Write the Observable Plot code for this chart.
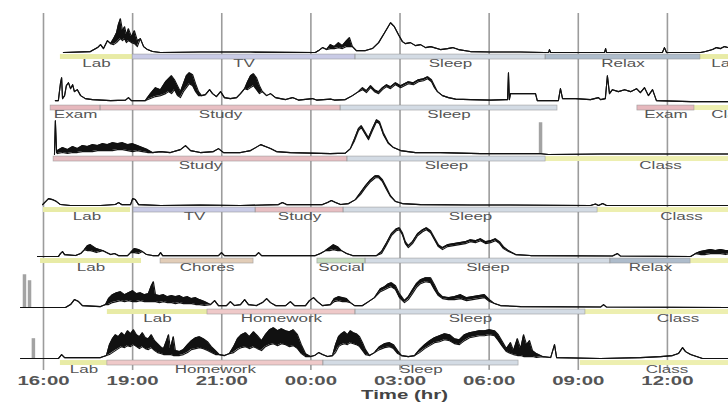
<!DOCTYPE html>
<html><head><meta charset="utf-8">
<script src="https://cdn.jsdelivr.net/npm/d3@7"></script>
<script src="https://cdn.jsdelivr.net/npm/@observablehq/plot@0.6"></script>
<style>body{margin:0;overflow:hidden;background:#fff}</style>
</head><body><script>
// Hours since the first tick (16:00), ticks every 3 hours
const tickHours = [0, 3, 6, 9, 12, 15, 18, 21];
const tickLabels = ["16:00", "19:00", "21:00", "00:00", "03:00", "06:00", "09:00", "12:00"];

const activityNames = ["Lab", "Class", "TV", "Sleep", "Relax", "Exam", "Study", "Homework", "Chores", "Social"];
const activityColors = ["#e8eba6", "#edefb0", "#c9cbe6", "#d3dbe4", "#aebccb", "#e6b8bd", "#e8bfc3", "#efc9c9", "#e2cdb8", "#c5dcc0"];

// Activity bands per day: [start hour, end hour, activity]
const seg1 = [[0.57, 3.0, "Lab"], [3.0, 10.5, "TV"], [10.5, 16.9, "Sleep"], [16.9, 22.11, "Relax"], [22.11, 23.8, "Lab"]];
const seg2 = [[0.24, 1.92, "Exam"], [1.92, 10.0, "Study"], [10.0, 17.3, "Sleep"], [19.99, 21.91, "Exam"], [21.91, 24.47, "Class"]];
const seg3 = [[0.34, 10.23, "Study"], [10.23, 16.9, "Sleep"], [16.9, 24.64, "Class"]];
const seg4 = [[0.0, 2.93, "Lab"], [3.03, 7.14, "TV"], [7.14, 10.1, "Study"], [10.1, 18.65, "Sleep"], [18.65, 24.3, "Class"]];
const seg5 = [[-0.1, 3.3, "Lab"], [3.94, 7.07, "Chores"], [9.22, 10.84, "Social"], [10.84, 19.08, "Sleep"], [19.08, 21.78, "Relax"], [21.78, 27.0, "Class"]];
const seg6 = [[2.15, 5.52, "Lab"], [5.52, 10.5, "Homework"], [10.5, 18.24, "Sleep"], [18.24, 24.47, "Class"]];
const seg7 = [[0.57, 2.15, "Lab"], [2.15, 9.42, "Homework"], [9.42, 15.99, "Sleep"], [18.07, 23.9, "Class"]];

// EDA traces per day: [hour, level] or [hour, low, high] (dense activity)
const row1 = [[0.67,0],[1.58,1],[1.82,5],[1.92,8],[2.02,4],[2.15,12],[2.26,9],[2.36,8,14],[2.46,10,20],[2.52,12,28],[2.59,14,34],[2.66,12,22],[2.73,14,26],[2.79,10,18],[2.86,12,24],[2.96,10,16],[3.06,9,22],[3.16,6,12],[3.26,14],[3.37,6],[3.5,3],[3.67,1],[3.94,0],[5.28,0.5],[6.97,0.5],[9.15,0],[9.26,2],[9.39,5],[9.53,3],[9.66,4,8],[9.79,4,6],[9.93,5,10],[10.06,4,7],[10.2,6,12],[10.3,6,15],[10.4,6],[10.53,2],[10.84,2],[11.07,4],[11.28,10],[11.48,20],[11.68,30],[11.81,26],[11.95,18],[12.08,11],[12.18,9],[12.35,10],[12.52,7],[12.69,8],[12.86,5],[13.03,6],[13.36,3],[13.6,4],[13.77,5],[13.97,3],[14.37,1],[15.05,0.5],[16.06,0.5],[16.86,0],[17.0,0],[17.03,3],[17.07,0],[18.88,0],[18.92,4],[18.95,0],[20.83,0],[20.9,5],[20.97,0],[22.11,0],[22.28,1],[22.52,3],[22.65,5],[22.79,4],[22.92,6],[23.06,5]];
const row2 = [[0.4,3],[0.5,3],[0.57,20],[0.61,26],[0.64,5],[0.71,8],[0.77,18],[0.84,21],[0.91,15],[0.98,19],[1.04,12],[1.14,14],[1.25,8],[1.41,5],[1.65,4],[2.26,3],[2.76,3.5],[2.86,6],[2.96,3],[3.43,3],[3.6,5,10],[3.77,7,16],[3.94,8,14],[4.11,10,22],[4.21,12,25],[4.31,10,28],[4.41,14,24],[4.51,8,18],[4.61,6,12],[4.71,12,20],[4.81,16,28],[4.91,20,31],[5.02,18,29],[5.12,12,20],[5.22,8,12],[5.32,8],[5.45,9],[5.59,14],[5.69,10],[5.82,7],[5.96,12],[6.09,6],[6.29,5],[6.5,6],[6.63,10],[6.77,15],[6.87,14,22],[6.97,16,28],[7.07,18,30],[7.17,14,26],[7.27,10,18],[7.37,12],[7.51,8],[7.64,10],[7.81,6],[8.15,4],[8.38,6],[8.58,3.5],[9.05,5],[9.19,3.5],[9.66,4.5],[9.79,3.5],[10.16,4],[10.4,8],[10.6,12],[10.74,14,16],[10.87,11,13],[11.01,16,18],[11.14,12,14],[11.28,10,12],[11.41,14,16],[11.55,17,19],[11.68,15,17],[11.85,19,21],[12.02,16,18],[12.15,18,20],[12.28,20,22],[12.45,19,21],[12.62,22,24],[12.79,23,25],[12.93,25,27],[13.06,22,24],[13.16,16,18],[13.26,12],[13.43,8],[13.63,6],[13.87,4.5],[14.37,4],[15.05,3.5],[15.55,4],[15.62,4],[15.65,31],[15.68,4],[15.72,10],[16.56,10],[16.62,3],[17.33,3],[17.4,15],[17.47,5],[17.91,5],[18.41,4],[18.68,6],[18.75,4],[18.91,5],[18.98,28],[19.05,10],[19.15,14],[19.35,12],[19.56,14],[19.76,12],[19.96,15],[20.09,11],[20.23,16],[20.36,8],[20.5,14],[20.63,3],[21.78,2],[23.06,2]];
const row3 = [[0.37,0],[0.4,34],[0.44,2],[0.47,1,4],[0.64,2,7],[0.81,1,5],[0.98,2,8],[1.14,2,6],[1.31,3,9],[1.48,3,8],[1.65,3,10],[1.82,4,9],[1.99,4,11],[2.15,4,10],[2.32,4,12],[2.49,5,11],[2.66,5,12],[2.83,4,10],[3.0,3,11],[3.16,4,9],[3.33,3,7],[3.5,2,5],[3.67,2],[3.94,3],[4.27,2],[4.61,5],[4.78,9],[4.95,4],[5.28,2],[5.72,3],[5.89,6],[6.06,2],[6.63,2],[6.97,4],[7.14,7],[7.31,10],[7.47,8],[7.64,6],[7.84,3],[8.31,2],[9.0,1.5],[9.66,1],[10.16,1.5],[10.33,6],[10.47,14,16],[10.6,24,26],[10.7,27,29],[10.8,22,24],[10.94,15,17],[11.07,24,26],[11.21,33,35],[11.31,31,33],[11.44,20,22],[11.61,11,12],[11.78,7],[12.02,4],[12.52,2],[13.36,2],[14.71,1],[16.06,1],[16.66,1],[17.0,0],[18.75,0.5],[20.43,0.5],[23.06,0.5]];
const row4 = [[-0.03,1],[0.07,4],[0.17,7],[0.3,6],[0.44,4],[0.57,1],[0.91,0],[1.92,0],[2.42,1],[2.52,3],[2.63,1],[2.93,1],[3.0,7],[3.09,6],[3.2,1],[3.94,0],[5.28,0.5],[6.63,0],[7.91,1],[8.04,3],[8.18,1],[9.39,1],[9.56,3],[9.69,5],[9.83,3],[10.0,1],[10.27,2],[10.5,6],[10.67,11,13],[10.84,18,20],[11.01,24,26],[11.17,28,30],[11.28,28,30],[11.41,24,26],[11.55,16,18],[11.68,9,10],[11.85,4],[12.08,2],[12.69,1],[14.37,0.5],[15.72,0.5],[18.41,0],[18.58,1.5],[18.68,0],[18.82,2],[18.95,0],[23.06,0]];
const row5 = [[-0.2,0],[0.5,0],[0.57,3],[0.64,5],[0.71,2],[1.08,1],[1.25,3],[1.38,7],[1.48,6,11],[1.58,6,12],[1.68,5,10],[1.78,4,8],[1.88,5,7],[1.99,6],[2.12,4],[2.26,2],[2.39,3],[2.52,1],[2.83,1],[2.93,4],[3.06,4,8],[3.2,3,7],[3.33,5],[3.47,2],[3.67,1],[3.87,1],[3.94,4],[4.01,1],[5.89,1],[5.99,4],[6.09,1],[7.14,1],[7.24,4],[7.34,1],[9.15,1],[9.32,3],[9.49,6],[9.63,6,9],[9.76,7,12],[9.9,6,10],[10.03,6],[10.2,3],[10.4,1],[11.21,1],[11.38,3,5],[11.55,12,14],[11.71,21,23],[11.88,26,28],[11.98,27,29],[12.08,22,24],[12.18,13,15],[12.28,9,11],[12.42,13,15],[12.59,21,23],[12.76,25,27],[12.89,27,29],[13.03,24,26],[13.16,17,19],[13.29,10,12],[13.43,7,9],[13.6,10,12],[13.8,11,13],[14.0,12,14],[14.2,13,15],[14.37,15,17],[14.54,14,16],[14.71,16,18],[14.88,13,15],[15.05,14,16],[15.21,16,18],[15.35,13,15],[15.48,8,10],[15.65,5,6],[15.89,2],[16.39,1],[19.15,0.5],[19.32,3],[19.42,0.5],[21.78,0],[21.95,3],[22.11,2,5],[22.28,2,6],[22.45,3,7],[22.62,3,6],[22.79,3,7],[22.96,2,6],[23.06,3,6]];
const row6 = [[-0.77,0],[0.74,0],[0.91,3],[1.04,8],[1.18,6],[1.31,2],[1.92,1],[2.09,3],[2.19,3,9],[2.32,5,13],[2.46,6,15],[2.59,7,16],[2.73,6,13],[2.86,7,15],[3.0,6,17],[3.13,6,14],[3.26,7,15],[3.4,6,13],[3.53,6,14],[3.63,6,22],[3.7,6,26],[3.77,6,13],[3.9,5,12],[4.04,6,13],[4.17,5,11],[4.31,5,12],[4.44,4,11],[4.58,5,12],[4.71,4,10],[4.85,4,11],[4.98,4,9],[5.12,3,10],[5.25,3,8],[5.42,2,6],[5.62,3],[5.76,7],[5.89,2],[6.16,2],[6.29,6],[6.43,2],[6.63,3],[6.77,8],[6.9,3],[7.17,2],[7.37,5],[7.51,9],[7.64,5],[7.81,2],[8.15,2],[8.31,6],[8.45,2],[8.82,2],[8.95,7],[9.09,10],[9.22,6],[9.39,2],[9.66,3],[9.79,6,9],[9.93,7,11],[10.06,6,10],[10.2,6,9],[10.33,5],[10.47,2],[10.74,2],[10.94,6],[11.14,10],[11.34,16,19],[11.48,18,21],[11.61,20,24],[11.71,21,25],[11.85,18,22],[11.98,10,14],[12.15,5,7],[12.28,8,11],[12.42,14,18],[12.55,20,24],[12.69,24,28],[12.86,26,30],[13.03,25,30],[13.16,18,23],[13.29,12,15],[13.43,9,11],[13.63,8,10],[13.83,8,11],[14.04,9,13],[14.24,7,10],[14.44,8,11],[14.64,9,12],[14.84,10,13],[15.01,6,8],[15.18,4],[15.38,2],[16.06,1],[18.75,0.5],[18.85,3],[18.95,0.5],[23.06,0]];
const row7 = [[-0.77,0],[0.5,0],[0.61,4],[0.71,1],[1.92,1],[2.12,3],[2.22,4,14],[2.32,6,20],[2.42,8,24],[2.52,10,22],[2.63,12,26],[2.73,11,23],[2.83,13,28],[2.93,12,25],[3.03,14,29],[3.13,12,24],[3.23,10,22],[3.33,12,26],[3.43,10,21],[3.53,9,20],[3.63,11,24],[3.74,8,18],[3.84,6,15],[3.94,5,12],[4.04,4,10],[4.14,4,18],[4.21,4,24],[4.27,4,10],[4.37,3,22],[4.44,3,8],[4.58,3,7],[4.71,4,9],[4.85,6,14],[4.98,9,18],[5.12,10,21],[5.25,11,22],[5.38,10,20],[5.52,8,17],[5.65,6,12],[5.79,4,8],[5.92,4],[6.09,3],[6.26,5],[6.4,6,12],[6.53,9,20],[6.66,11,24],[6.8,12,26],[6.93,10,22],[7.07,12,27],[7.2,10,23],[7.34,8,18],[7.47,12,24],[7.61,14,29],[7.74,15,31],[7.88,13,28],[8.01,15,30],[8.15,14,28],[8.28,12,27],[8.41,13,29],[8.55,10,24],[8.68,5,14],[8.82,2,5],[8.99,2],[9.12,3],[9.26,6],[9.39,4],[9.56,2],[9.73,3],[9.83,6,14],[9.93,12,22],[10.03,14,25],[10.13,15,27],[10.23,14,24],[10.33,16,28],[10.43,15,26],[10.53,14,25],[10.64,12,22],[10.74,8,16],[10.84,4,9],[10.97,3],[11.14,6],[11.31,9,12],[11.48,11,15],[11.65,12,16],[11.78,10,14],[11.92,5,8],[12.05,3],[12.28,2],[12.49,3],[12.66,6,9],[12.83,10,14],[13.0,13,18],[13.16,16,21],[13.33,17,23],[13.5,19,25],[13.67,18,24],[13.83,15,20],[14.0,14,19],[14.17,18,24],[14.34,21,26],[14.51,22,27],[14.67,23,28],[14.84,23,28],[15.01,24,29],[15.18,23,28],[15.31,18,24],[15.45,12,17],[15.58,7,10],[15.72,5,16],[15.82,4,8],[15.95,3,20],[16.06,3,10],[16.16,2,24],[16.26,2,14],[16.36,2,18],[16.46,2,8],[16.59,1,5],[16.8,2],[17.07,1],[17.2,14],[17.27,1],[18.75,0],[20.09,1],[20.77,2],[21.17,3],[21.37,5],[21.51,11],[21.61,7],[21.78,4],[21.98,2],[22.18,0],[23.06,0]];

// Grey signal artefacts: [day, hour, level]
const artifacts = [[3, 16.73, 32], [6, -0.64, 33], [6, -0.47, 27], [7, -0.34, 20]];

const segRows = [seg1, seg2, seg3, seg4, seg5, seg6, seg7];
const traceRows = [row1, row2, row3, row4, row5, row6, row7];

const segments = segRows.flatMap((s, i) => s.map(([start, end, activity]) => ({row: i + 1, start, end, activity})));
const trace = traceRows.flatMap((r, i) => r.map(d => ({row: i + 1, h: d[0], lo: d[1], hi: d.length > 2 ? d[2] : d[1]})));
const arts = artifacts.map(([row, h, level]) => ({row, h, level}));
const outlined = segments.filter(d => d.activity !== "Lab" && d.activity !== "Class");
const labelled = segments.filter(d => (d.start + d.end) / 2 < 24);

const chart = Plot.plot({
  width: 728,
  height: 404,
  marginLeft: 0,
  marginRight: 0,
  marginTop: 12,
  marginBottom: 33,
  style: {fontFamily: "'Liberation Sans', Arial, sans-serif", background: "#fff"},
  x: {domain: [-1.447, 23.056], ticks: tickHours, tickFormat: d => tickLabels[tickHours.indexOf(d)], tickSize: 0, tickPadding: 6, label: null},
  y: {domain: [-12, 39.3], axis: null},
  fy: {domain: [1, 2, 3, 4, 5, 6, 7], axis: null, padding: 0},
  color: {domain: activityNames, range: activityColors},
  marks: [
    Plot.ruleX(tickHours, {stroke: "#9c9c9c", strokeWidth: 1.6}),
    Plot.rect(segments, {x1: "start", x2: "end", y1: -2, y2: -7, fy: "row", fill: "activity"}),
    Plot.rect(outlined, {x1: "start", x2: "end", y1: -2, y2: -7, fy: "row", fill: "none", stroke: "#8f8f8f", strokeWidth: 0.7, strokeOpacity: 0.7}),
    Plot.text(labelled, {x: d => (d.start + d.end) / 2, y: -11, fy: "row", text: "activity", fontSize: 10, fill: "#555"}),
    Plot.ruleX(arts, {x: "h", y1: 0, y2: "level", fy: "row", stroke: "#a3a3a3", strokeWidth: 3.5}),
    Plot.areaY(trace, {x: "h", y1: "lo", y2: "hi", fy: "row", fill: "#111"}),
    Plot.line(trace, {x: "h", y: "hi", fy: "row", stroke: "#111", strokeWidth: 1.1}),
    Plot.line(trace, {x: "h", y: "lo", fy: "row", stroke: "#111", strokeWidth: 1.1}),
    Plot.text(["Time (hr)"], {x: () => 12.15, fy: () => 7, frameAnchor: "bottom", dy: 28, text: d => d, fontSize: 12, fontWeight: "bold", fill: "#444"})
  ]
});
document.body.append(chart);

// tick labels
chart.querySelectorAll('g[aria-label="x-axis tick label"] text').forEach(t => {
  t.setAttribute("font-size", 12);
  t.setAttribute("font-weight", "bold");
  t.setAttribute("fill", "#555");
});
// the reference's lettering is horizontally stretched
chart.querySelectorAll("text").forEach(t => {
  const len = t.getComputedTextLength();
  if (len > 0) {
    t.setAttribute("textLength", (len * 1.7).toFixed(1));
    t.setAttribute("lengthAdjust", "spacingAndGlyphs");
  }
});
</script></body></html>
